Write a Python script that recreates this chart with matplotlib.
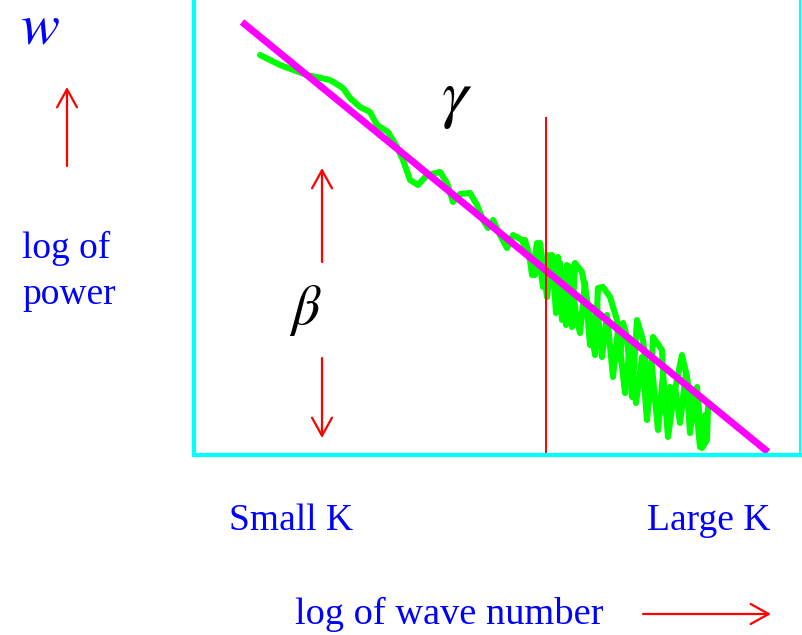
import matplotlib
matplotlib.use("Agg")
import matplotlib.pyplot as plt

plt.rcParams['mathtext.fontset'] = 'stix'

# spectrum trace (log wave number, log power)
spec_k = [66, 86, 113, 136, 149, 156, 166, 176, 183, 194, 203, 209, 216, 224,
          233, 246, 253, 259, 266, 276, 283, 289, 294, 299, 306, 313, 319, 328,
          336, 338, 343, 349, 354, 359, 364, 368, 373, 378, 381, 388, 393, 401,
          404, 409, 416, 423, 426, 429, 433, 438, 443, 449, 456, 459, 468, 471,
          476, 479, 488, 493, 498, 503, 508, 513, 514]
spec_p = [400, 390, 380, 375, 367, 357, 348, 343, 330, 323, 308, 295, 275, 270,
          280, 283, 272, 253, 261, 262, 250, 235, 227, 235, 220, 207, 220, 215,
          195, 180, 212, 168, 200, 178, 198, 135, 190, 128, 192, 183, 155, 100,
          167, 168, 158, 135, 95, 132, 118, 58, 135, 115, 55, 118, 105, 42,
          68, 55, 100, 78, 42, 68, 7, 15, 48]

# second noisy pass over the high-k end
noise_k = [331, 341, 346, 353, 358, 362, 366, 372, 376, 382, 386, 391, 396, 403,
           408, 413, 419, 424, 431, 436, 442, 448, 453, 458, 464, 469, 474, 481,
           486, 492, 496, 501, 506, 511]
noise_p = [215, 180, 212, 158, 200, 142, 192, 130, 188, 140, 122, 172, 110, 150,
           98, 140, 78, 125, 62, 110, 52, 98, 35, 88, 25, 80, 18, 68,
           32, 82, 22, 60, 8, 40]

# power-law fit and the break point
fit_k = [48, 574]
fit_p = [433, 3]
k_break = 352
p_break_top = 337

fig = plt.figure(figsize=(8.02, 6.35), dpi=100)
ax = fig.add_axes([194 / 802, 180 / 635, 606 / 802, 455 / 635])
ax.set_xlim(0, 606)
ax.set_ylim(0, 455)
ax.set_xticks([])
ax.set_yticks([])
ax.spines['top'].set_visible(False)
ax.spines['left'].set_color('#00ffff')
ax.spines['left'].set_linewidth(3)
ax.spines['bottom'].set_color('#00ffff')
ax.spines['bottom'].set_linewidth(3)
ax.spines['right'].set_color('#00ffff')
ax.spines['right'].set_linewidth(1.5)

green = dict(color='#00ff00', lw=4.4, solid_joinstyle='round',
             solid_capstyle='round', clip_on=False)
ax.plot(spec_k, spec_p, **green)
ax.plot(noise_k, noise_p, **green)
ax.plot(fit_k, fit_p, color='#ff00ff', lw=5, solid_capstyle='butt')
ax.plot([k_break, k_break], [0, p_break_top], color='#ff0000', lw=1.4)

ax.text(247, 340, r'$\gamma$', fontsize=48, color='black', va='baseline')
ax.text(95, 131, r'$\beta$', fontsize=40, color='black', va='baseline')


def red_arrow(tail, tip):
    fig.add_artist(matplotlib.patches.FancyArrowPatch(
        tail, tip, transform=None,
        arrowstyle='->,head_length=0.65,head_width=0.36', mutation_scale=20,
        color='#ff0000', lw=1.6, shrinkA=0, shrinkB=0))


H = 635
red_arrow((67, H - 166), (67, H - 87))
red_arrow((322, H - 262), (322, H - 168))
red_arrow((322, H - 358), (322, H - 438))
red_arrow((643, H - 614), (771, H - 614))

serif = dict(family='Liberation Serif', color='#0000ff', fontsize=27,
             va='baseline', transform=None)
fig.text(20, H - 43, r'$w$', color='#0000ff', fontsize=42, va='baseline',
         transform=None)
fig.text(22, H - 258, 'log of', **serif)
fig.text(22, H - 304, 'power', **serif)
fig.text(229, H - 530, 'Small K', **serif)
fig.text(647, H - 530, 'Large K', **serif)
fig.text(295, H - 624, 'log of wave number',
         **{**serif, 'fontsize': 27.6})

fig.savefig('out.png', dpi=100)
